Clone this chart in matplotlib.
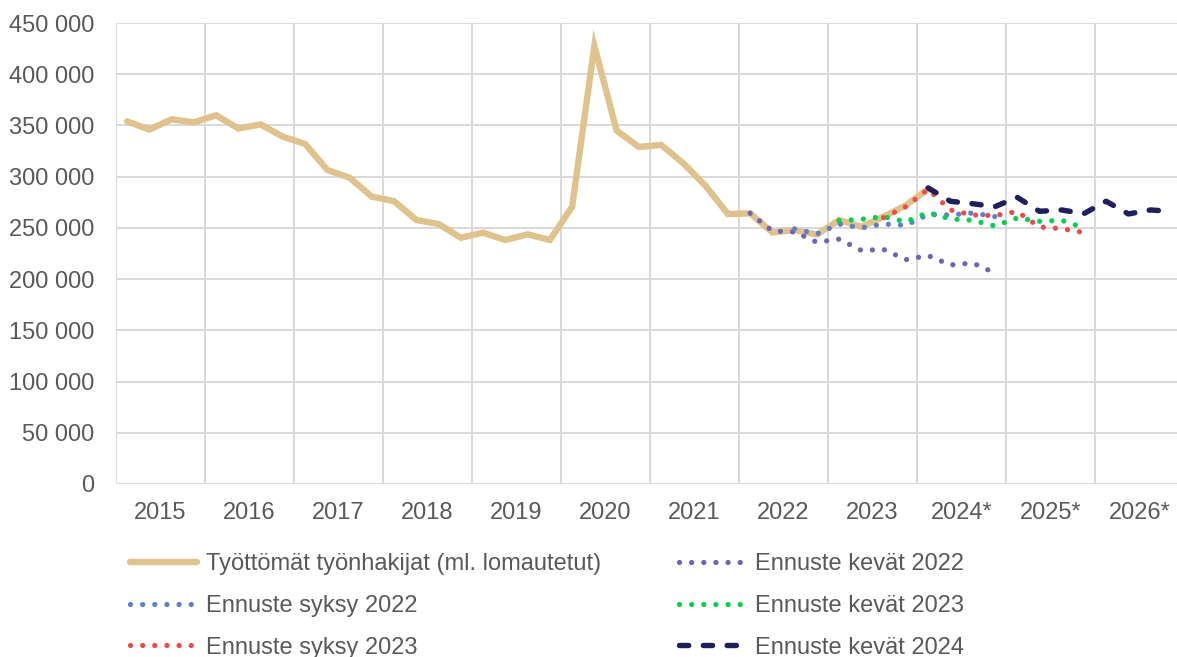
import numpy as np
import matplotlib
matplotlib.use("Agg")
import matplotlib.pyplot as plt
from matplotlib.ticker import FuncFormatter, FixedLocator

plt.rcParams['font.family'] = ['Liberation Sans', 'DejaVu Sans']

# ---------------- data ----------------
years = [2015, 2016, 2017, 2018, 2019, 2020, 2021, 2022, 2023, 2024, 2025, 2026]
year_labels = ["2015", "2016", "2017", "2018", "2019", "2020", "2021", "2022",
               "2023", "2024*", "2025*", "2026*"]
quarters = [f"{y}Q{q}" for y in years for q in range(1, 5)]

# Actual unemployed jobseekers (incl. laid off), 2015Q1 - 2024Q1
actual_start = "2015Q1"
actual = [354000, 346000, 356000, 353000, 360000, 347000, 351000, 339000,
          332000, 306500, 299000, 280500, 276000, 257700, 253800, 240400,
          245300, 238200, 243700, 238200, 270700, 427600, 345000, 329000,
          331000, 313000, 291000, 263600, 264200, 245500, 248000, 243500,
          257700, 251000, 261000, 272000, 288000]

spring22_start = "2022Q1"
spring22 = [264200, 247000, 246000, 236000, 239000, 228000, 229000, 219000,
            223000, 213800, 215700, 206000]

autumn22_start = "2022Q3"
autumn22 = [249000, 244000, 253800, 250000, 253800, 252500, 263000, 262600,
            264500, 261000]

spring23_start = "2023Q1"
spring23 = [257000, 258400, 261000, 256000, 265000, 258700, 257400, 251900,
            259700, 256400, 257400, 250000]

autumn23_start = "2023Q3"
autumn23 = [260000, 270700, 287700, 267500, 262600, 262000, 266000, 250900,
            249200, 245500]

spring24_start = "2024Q1"
spring24 = [289000, 276000, 273600, 270700, 279900, 266200, 267500, 263900,
            276000, 263600, 267500, 266000]

series_labels = ["Työttömät työnhakijat (ml. lomautetut)",
                 "Ennuste kevät 2022", "Ennuste syksy 2022",
                 "Ennuste kevät 2023", "Ennuste syksy 2023",
                 "Ennuste kevät 2024"]

# ---------------- figure ----------------
W, H = 1177, 657
fig = plt.figure(figsize=(W / 100, H / 100), dpi=100)
ax = fig.add_axes([116 / W, 1 - 484 / H, (1184 - 116) / W, 461 / H])


def xs(start, vals):
    i0 = quarters.index(start)
    return np.arange(i0, i0 + len(vals))


text_color = "#595959"
grid_color = "#d9d9d9"

tan = "#dfc28c"
purple = "#7162b9"
blue = "#5f7fc9"
green = "#00d24f"
red = "#ef4a43"
navy = "#1e1f5c"

dot_lw = 3.8
dot_style = (0, (0.001, 2.3))

h_actual, = ax.plot(xs(actual_start, actual), actual, color=tan, lw=4.6,
                    solid_joinstyle='miter', solid_capstyle='round', zorder=2,
                    label=series_labels[0])


def dotted(start, vals, color, label, z):
    ln, = ax.plot(xs(start, vals), vals, color=color, lw=dot_lw,
                  linestyle=dot_style, dash_capstyle='round', zorder=z,
                  label=label)
    return ln


h_s22 = dotted(spring22_start, spring22, purple, series_labels[1], 3)
h_a22 = dotted(autumn22_start, autumn22, blue, series_labels[2], 4)
h_s23 = dotted(spring23_start, spring23, green, series_labels[3], 5)
h_a23 = dotted(autumn23_start, autumn23, red, series_labels[4], 6)
h_s24, = ax.plot(xs(spring24_start, spring24), spring24, color=navy, lw=3.9,
                 linestyle=(0, (1.7, 2.7)), dash_capstyle='round', zorder=7,
                 label=series_labels[5])

ax.set_xlim(-0.5, len(quarters) - 0.5)
ax.set_ylim(0, 450000)

ax.set_yticks(np.arange(0, 450001, 50000))
ax.yaxis.set_major_formatter(FuncFormatter(
    lambda v, p: f"{int(v):,}".replace(",", " ")))

ax.xaxis.set_major_locator(FixedLocator([1.5 + 4 * i for i in range(len(years))]))
ax.set_xticklabels(year_labels)
ax.xaxis.set_minor_locator(FixedLocator([-0.5 + 4 * i for i in range(len(years) + 1)]))

ax.tick_params(axis='both', which='both', length=0, labelsize=17,
               labelcolor=text_color)
ax.tick_params(axis='x', pad=13)
ax.tick_params(axis='y', pad=15.5)

ax.grid(axis='y', which='major', color=grid_color, lw=1.4, zorder=0)
ax.grid(axis='x', which='minor', color=grid_color, lw=1.4, zorder=0)
ax.grid(axis='x', which='major', visible=False)
ax.set_axisbelow(True)
for s in ax.spines.values():
    s.set_visible(False)

handles = [h_actual, h_a22, h_a23, h_s22, h_s23, h_s24]
leg = fig.legend(handles=handles, labels=[h.get_label() for h in handles],
                 loc='upper left', bbox_to_anchor=(130 / W, 1 - 553 / H),
                 ncol=2, frameon=False, fontsize=17, borderpad=0,
                 borderaxespad=0, handlelength=2.85, handletextpad=0.38,
                 columnspacing=3.27, labelspacing=0.84)
for t in leg.get_texts():
    t.set_color(text_color)

fig.savefig("out.png", dpi=100)
